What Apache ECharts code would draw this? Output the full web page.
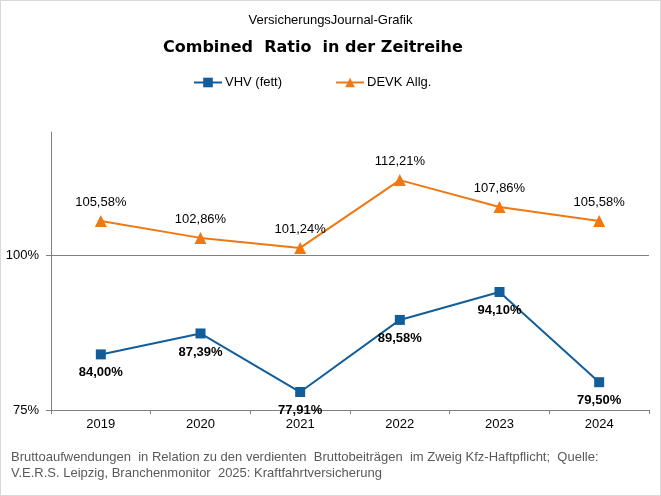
<!DOCTYPE html>
<html>
<head>
<meta charset="utf-8">
<script src="https://cdn.jsdelivr.net/npm/echarts@6/dist/echarts.min.js"></script>
<style>
  html, body { margin: 0; padding: 0; background: #fff; }
  #main { width: 661px; height: 496px; box-sizing: border-box; border: 1px solid #d9d9d9; }
</style>
</head>
<body>
<div id="main"></div>
<script>
// Jahre und Combined Ratios (in %)
var years = ["2019", "2020", "2021", "2022", "2023", "2024"];
var vhv = [84.00, 87.39, 77.91, 89.58, 94.10, 79.50];
var devk = [105.58, 102.86, 101.24, 112.21, 107.86, 105.58];
var yTicks = [75, 100];

var font = "Liberation Sans, Arial, sans-serif";

function pct(v) {
  return v.toFixed(2).replace(".", ",") + "%";
}

var myChart = echarts.init(document.getElementById("main"));

var option = {
  animation: false,
  textStyle: { fontFamily: font },
  title: [
    {
      text: "VersicherungsJournal-Grafik",
      left: "center",
      top: 8,
      textStyle: { fontSize: 13, fontWeight: "normal", color: "#000", fontFamily: font }
    },
    {
      text: "Combined  Ratio  in der Zeitreihe",
      left: 157,
      top: 34,
      textStyle: { fontSize: 16, fontWeight: "bold", color: "#000", fontFamily: "DejaVu Sans" }
    },
    {
      text: "Bruttoaufwendungen  in Relation zu den verdienten  Bruttobeiträgen  im Zweig Kfz-Haftpflicht;  Quelle:\nV.E.R.S. Leipzig, Branchenmonitor  2025: Kraftfahrtversicherung",
      left: 5,
      top: 443,
      textStyle: { fontSize: 13, fontWeight: "normal", color: "#595959", lineHeight: 16, fontFamily: font }
    }
  ],
  legend: {
    top: 70,
    left: 187,
    itemWidth: 28,
    itemHeight: 12,
    itemGap: 53,
    textStyle: { fontSize: 13, color: "#000", padding: [0, 0, 0, -2] },
    data: ["VHV (fett)", "DEVK Allg."]
  },
  grid: {
    left: 50,
    right: 11,
    top: 131,
    bottom: 85,
    containLabel: false
  },
  xAxis: {
    type: "category",
    data: years,
    boundaryGap: true,
    axisLine: { lineStyle: { color: "#808080", width: 1 } },
    axisTick: { show: true, length: 4, lineStyle: { color: "#808080" } },
    axisLabel: { fontSize: 13, color: "#000", margin: 8 }
  },
  yAxis: {
    type: "value",
    min: 75,
    max: 120,
    interval: 25,
    axisLine: { show: true, lineStyle: { color: "#808080", width: 1 } },
    axisTick: { show: true, length: 5, customValues: yTicks, lineStyle: { color: "#808080" } },
    axisLabel: {
      fontSize: 13,
      color: "#000",
      margin: 12,
      customValues: yTicks,
      formatter: function (v) { return v + "%"; }
    },
    splitLine: { show: false }
  },
  series: [
    {
      name: "VHV (fett)",
      type: "line",
      data: vhv,
      symbol: "rect",
      symbolSize: 10,
      color: "#125e9b",
      lineStyle: { width: 2, color: "#125e9b" },
      itemStyle: { color: "#125e9b" },
      label: {
        show: true,
        position: "bottom",
        distance: 7,
        fontSize: 13,
        fontWeight: "bold",
        color: "#000",
        formatter: function (p) { return pct(p.value); }
      },
      markLine: {
        silent: true,
        symbol: "none",
        label: { show: false },
        lineStyle: { color: "#808080", width: 1, type: "solid" },
        data: [{ yAxis: 100 }]
      },
      z: 3
    },
    {
      name: "DEVK Allg.",
      type: "line",
      data: devk,
      symbol: "triangle",
      symbolSize: 12,
      color: "#ef7813",
      lineStyle: { width: 2, color: "#ef7813" },
      itemStyle: { color: "#ef7813" },
      label: {
        show: true,
        position: "top",
        distance: 6,
        fontSize: 13,
        color: "#000",
        formatter: function (p) { return pct(p.value); }
      },
      z: 3
    }
  ]
};

myChart.setOption(option);
</script>
</body>
</html>
